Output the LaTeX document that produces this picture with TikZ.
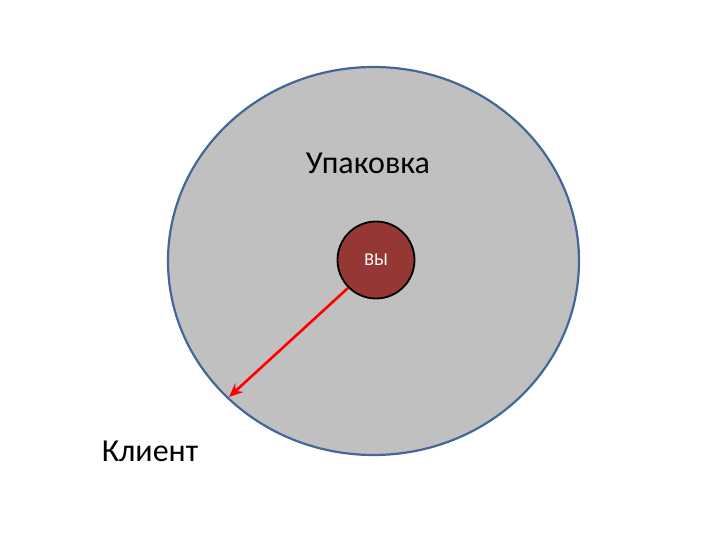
\documentclass[tikz,border=0pt]{standalone}
\usepackage{fontspec}
\setmainfont{Carlito}
\usetikzlibrary{arrows.meta}
\definecolor{pack}{HTML}{C0C0C0}
\definecolor{packline}{HTML}{44669A}
\definecolor{you}{HTML}{953735}
\tikzset{
  lbl/.style={font=\fontsize{32}{38}\selectfont, text=black, inner sep=0pt},
}
\begin{document}
\begin{tikzpicture}[x=1pt,y=-1pt]
\useasboundingbox (0,0) rectangle (720,540);
\fill[white] (0,0) rectangle (720,540);
\draw[packline, line width=2.2pt, fill=pack] (373.5,261) ellipse [x radius=205.5, y radius=194];
\node[draw=black, line width=1.8pt, fill=you, circle, minimum size=77pt, inner sep=0pt] (you) at (376,260) {};
\node[text=white, font=\fontsize{18}{20}\selectfont] (youtxt) at (376,260) {ВЫ};
\node[lbl] (pack) at (368,163) {Упаковка};
\node[lbl] (client) at (150,451) {Клиент};
\coordinate (tip) at (229,397);
\draw[red, line width=2.6pt, -{Stealth[length=14pt, width=12pt, inset=5pt]}] (you.225) -- (tip);
\end{tikzpicture}
\end{document}
